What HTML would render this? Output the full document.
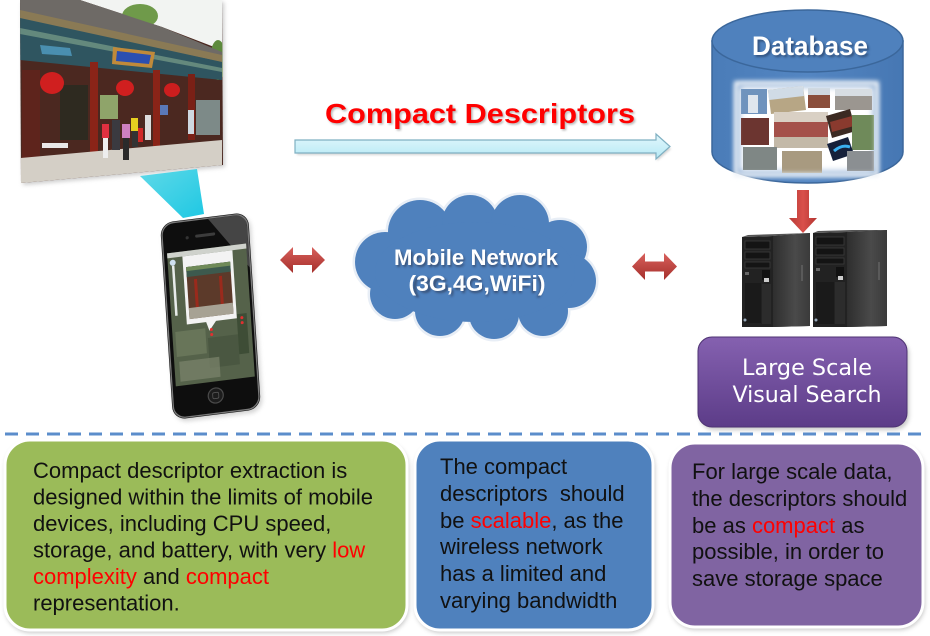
<!DOCTYPE html>
<html><head><meta charset="utf-8"><style>
html,body{margin:0;padding:0;background:#fff;}
svg{display:block;}
text{font-family:"Liberation Sans",Arial,sans-serif;}
</style></head><body>
<svg width="930" height="636" viewBox="0 0 930 636" xmlns="http://www.w3.org/2000/svg">
<defs>
 <linearGradient id="beam" x1="0" y1="0" x2="1" y2="1"><stop offset="0" stop-color="#5fd9e8"/><stop offset="1" stop-color="#1fc8e3"/></linearGradient>
 <linearGradient id="redarr" x1="0" y1="0" x2="0" y2="1"><stop offset="0" stop-color="#d8605c"/><stop offset="1" stop-color="#a52f2b"/></linearGradient>
 <linearGradient id="redarrv" x1="0" y1="0" x2="1" y2="0"><stop offset="0" stop-color="#b83a36"/><stop offset=".5" stop-color="#d9504b"/><stop offset="1" stop-color="#b33430"/></linearGradient>
 <linearGradient id="purp" x1="0" y1="0" x2="0" y2="1"><stop offset="0" stop-color="#8561b0"/><stop offset="1" stop-color="#5c3c88"/></linearGradient>
 <linearGradient id="cyl" x1="0" y1="0" x2="1" y2="0"><stop offset="0" stop-color="#4a7cb8"/><stop offset=".5" stop-color="#5486c2"/><stop offset="1" stop-color="#4677b3"/></linearGradient>
 <linearGradient id="side" x1="0" y1="0" x2="1" y2="0"><stop offset="0" stop-color="#2e2e2e"/><stop offset=".6" stop-color="#4a4a4a"/><stop offset="1" stop-color="#3a3a3a"/></linearGradient>
 <linearGradient id="cyanarr" x1="0" y1="0" x2="0" y2="1"><stop offset="0" stop-color="#e2f7fc"/><stop offset="1" stop-color="#b6e9f5"/></linearGradient>
 <clipPath id="photoclip"><polygon points="20,0 222,0 223,165 21,183"/></clipPath>
 <filter id="blur2" x="-20%" y="-20%" width="140%" height="140%"><feGaussianBlur stdDeviation="2"/></filter>
 <filter id="blur1" x="-20%" y="-20%" width="140%" height="140%"><feGaussianBlur stdDeviation="1"/></filter>
 <filter id="blur4" x="-20%" y="-20%" width="140%" height="140%"><feGaussianBlur stdDeviation="4"/></filter>
</defs>

<!-- ===== Photo ===== -->
<polygon points="22,2 224,2 225,167 23,185" fill="#999" filter="url(#blur2)" opacity=".5"/>
<g clip-path="url(#photoclip)">
 <rect x="15" y="0" width="215" height="190" fill="#4b2820"/>
 <!-- sky & trees -->
 <polygon points="80,0 222,0 222,50 162,27" fill="#f2f4f2"/>
 <ellipse cx="140" cy="16" rx="18" ry="12" fill="#6f9a4a"/>
 <ellipse cx="218" cy="60" rx="8" ry="20" fill="#5d8a3c"/>
 <!-- roof -->
 <polygon points="20,0 80,0 162,27 222,52 222,62 20,18" fill="#6e6a66"/>
 <polygon points="20,10 222,55 222,62 20,20" fill="#8a7a55"/>
 <!-- decorated beams -->
 <polygon points="20,18 222,62 222,80 20,60" fill="#2f5560"/>
 <polygon points="20,28 222,68 222,72 20,34" fill="#7aa08a" opacity=".7"/>
 <polygon points="40,45 70,48 72,56 42,54" fill="#4a8fb0"/>
 <polygon points="113,47 155,52 152,68 112,64" fill="#c08a3a"/>
 <polygon points="117,51 151,55 149,64 116,61" fill="#2b4fb0"/>
 <!-- columns -->
 <rect x="90" y="62" width="8" height="100" fill="#8a2418"/>
 <rect x="153" y="70" width="7" height="78" fill="#8a2418"/>
 <rect x="188" y="74" width="7" height="66" fill="#7a2016"/>
 <rect x="22" y="70" width="18" height="90" fill="#5e241c"/>
 <!-- interior -->
 <rect x="60" y="85" width="28" height="55" fill="#2e2a20"/>
 <rect x="100" y="95" width="18" height="24" fill="#8fa46a"/>
 <rect x="196" y="100" width="24" height="35" fill="#7d8a88"/>
 <rect x="160" y="105" width="8" height="10" fill="#5a78b8"/>
 <!-- lanterns -->
 <ellipse cx="52" cy="83" rx="12" ry="11" fill="#d01f1f"/>
 <ellipse cx="125" cy="88" rx="9" ry="8" fill="#d01f1f"/>
 <ellipse cx="172" cy="90" rx="8" ry="7" fill="#cc1e1e"/>
 <!-- ground -->
 <polygon points="20,158 222,140 222,170 20,190" fill="#d4cfc6"/>
 <!-- table -->
 <rect x="42" y="143" width="26" height="5" fill="#e8e8e8"/>
 <!-- people -->
 <rect x="102" y="124" width="7" height="14" fill="#e03040"/>
 <rect x="103" y="138" width="5" height="20" fill="#eee"/>
 <rect x="112" y="120" width="8" height="30" fill="#3a3a40"/>
 <rect x="122" y="124" width="8" height="14" fill="#d080c0"/>
 <rect x="123" y="138" width="6" height="22" fill="#2a2a2a"/>
 <rect x="131" y="118" width="7" height="13" fill="#e6d020"/>
 <rect x="132" y="131" width="6" height="16" fill="#333"/>
 <rect x="138" y="128" width="5" height="14" fill="#d02828"/>
 <rect x="145" y="115" width="6" height="25" fill="#ddd"/>
 <rect x="188" y="110" width="6" height="24" fill="#cfd8e0"/>
</g>

<!-- ===== Beam ===== -->
<polygon points="140,176 197,169 204,214 183,218" fill="url(#beam)"/>

<!-- ===== Phone ===== -->
<g transform="matrix(1,-0.125,0.066,1,160,223)">
 <rect x="2" y="3" width="88" height="197" rx="13" fill="#888" opacity=".35" filter="url(#blur2)"/>
 <rect x="0" y="0" width="88" height="197" rx="13" fill="#0e0e0e"/>
 <rect x="1.2" y="1.2" width="85.6" height="194.6" rx="12" fill="none" stroke="#7a7a7a" stroke-width="1.3"/>
 <path d="M48,2 L75,2 Q86,2 86,14 L86,55 Z" fill="#8a8a8a" opacity=".45"/>
 <rect x="34" y="16" width="20" height="3" rx="1.5" fill="#3c3c3c"/>
 <circle cx="26" cy="18" r="1.6" fill="#333"/>
 <!-- screen -->
 <rect x="5" y="31" width="79" height="133" fill="#55624a"/>
 <rect x="5" y="31" width="79" height="5" fill="#cfd2cc"/>
 <rect x="8" y="110" width="30" height="25" fill="#6d7a5c" opacity=".8"/>
 <rect x="40" y="120" width="30" height="30" fill="#47553f" opacity=".8"/>
 <rect x="10" y="140" width="40" height="20" fill="#7c846c" opacity=".7"/>
 <rect x="70" y="100" width="10" height="40" fill="#3e4d36"/>
 <rect x="9" y="44" width="2.5" height="50" fill="#e8ecea"/>
 <circle cx="10" cy="41" r="3" fill="#cfe0ef"/>
 <!-- popup -->
 <rect x="20" y="36" width="50" height="68" fill="#f3f3f3"/>
 <polygon points="39,103 50,103 42,113" fill="#f3f3f3"/>
 <rect x="23" y="47" width="44" height="52" fill="#5c3a2a"/>
 <rect x="23" y="47" width="44" height="10" fill="#3d5a4e"/>
 <rect x="23" y="47" width="44" height="4" fill="#6f8a58"/>
 <rect x="30" y="60" width="3" height="30" fill="#9a2a1c"/>
 <rect x="55" y="60" width="3" height="30" fill="#9a2a1c"/>
 <rect x="23" y="88" width="44" height="11" fill="#a7a294"/>
 <circle cx="44" cy="112" r="1.5" fill="#e03030"/>
 <circle cx="44" cy="117" r="1.5" fill="#e03030"/>
 <circle cx="75" cy="104" r="1.5" fill="#e03030"/>
 <circle cx="75" cy="109" r="1.5" fill="#e03030"/>
 <!-- home button -->
 <circle cx="44" cy="178" r="7.5" fill="#1c1c1c" stroke="#4a4a4a" stroke-width="1.2"/>
 <rect x="41" y="175" width="6" height="6" rx="1.5" fill="none" stroke="#555" stroke-width="0.8"/>
</g>

<!-- ===== Compact Descriptors ===== -->
<text x="326.5" y="124.5" font-size="28" font-weight="bold" fill="#888" opacity=".6" textLength="310" lengthAdjust="spacingAndGlyphs" filter="url(#blur1)">Compact Descriptors</text>
<text x="325" y="123" font-size="28" font-weight="bold" fill="#ff0000" textLength="310" lengthAdjust="spacingAndGlyphs">Compact Descriptors</text>

<!-- cyan arrow -->
<path d="M297,143 L657,143 L657,137 L671,149 L657,161 L657,155 L297,155 Z" fill="#aaa" opacity=".5" filter="url(#blur1)"/>
<path d="M295,140 L656,140 L656,134 L670,146.5 L656,159 L656,153 L295,153 Z" fill="url(#cyanarr)" stroke="#7fb0c2" stroke-width="1.2"/>

<!-- ===== red double arrows ===== -->
<path d="M280,260 L293,247 L293,255 L312,255 L312,247 L325,260 L312,273 L312,265 L293,265 L293,273 Z" fill="url(#redarr)"/>
<path d="M632,266.5 L645,253 L645,261.5 L664,261.5 L664,253 L677,266.5 L664,280 L664,271.5 L645,271.5 L645,280 Z" fill="url(#redarr)"/>

<!-- ===== Cloud ===== -->
<g fill="#4f81bd" stroke="#e8eef6" stroke-width="5">
 <circle cx="385" cy="262" r="30"/>
 <circle cx="420" cy="232" r="32"/>
 <circle cx="470" cy="223" r="28"/>
 <circle cx="520" cy="224" r="29"/>
 <circle cx="560" cy="247" r="27"/>
 <circle cx="569" cy="281" r="27"/>
 <circle cx="543" cy="311" r="25"/>
 <circle cx="494" cy="314" r="25"/>
 <circle cx="440" cy="311" r="25"/>
 <circle cx="395" cy="294" r="25"/>
</g>
<g fill="#4f81bd">
 <circle cx="385" cy="262" r="30"/>
 <circle cx="420" cy="232" r="32"/>
 <circle cx="470" cy="223" r="28"/>
 <circle cx="520" cy="224" r="29"/>
 <circle cx="560" cy="247" r="27"/>
 <circle cx="569" cy="281" r="27"/>
 <circle cx="543" cy="311" r="25"/>
 <circle cx="494" cy="314" r="25"/>
 <circle cx="440" cy="311" r="25"/>
 <circle cx="395" cy="294" r="25"/>
 <ellipse cx="475" cy="272" rx="100" ry="50"/>
</g>
<text x="477" y="267" font-size="22" font-weight="bold" fill="#223" opacity=".5" text-anchor="middle" filter="url(#blur1)">Mobile Network</text>
<text x="476" y="265" font-size="22" font-weight="bold" fill="#fff" text-anchor="middle" textLength="164" lengthAdjust="spacingAndGlyphs">Mobile Network</text>
<text x="478" y="293" font-size="22" font-weight="bold" fill="#223" opacity=".5" text-anchor="middle" filter="url(#blur1)">(3G,4G,WiFi)</text>
<text x="477" y="291" font-size="22" font-weight="bold" fill="#fff" text-anchor="middle" textLength="137" lengthAdjust="spacingAndGlyphs">(3G,4G,WiFi)</text>

<!-- ===== Database ===== -->
<path d="M712,41 L712,152 A95.5,31 0 0 0 903,152 L903,41 Z" fill="url(#cyl)" stroke="#3b679b" stroke-width="1.5"/>
<ellipse cx="807.5" cy="41" rx="95.5" ry="31" fill="#4f81bd" stroke="#3b679b" stroke-width="1.5"/>
<text x="812" y="57" font-size="27" font-weight="bold" fill="#1a2f4f" opacity=".55" text-anchor="middle" textLength="116" lengthAdjust="spacingAndGlyphs" filter="url(#blur1)">Database</text>
<text x="810" y="55" font-size="27" font-weight="bold" fill="#fff" text-anchor="middle" textLength="116" lengthAdjust="spacingAndGlyphs">Database</text>
<!-- collage -->
<rect x="738" y="85" width="137" height="88" fill="#ffffff" filter="url(#blur4)"/>
<g>
 <rect x="741" y="89" width="26" height="25" fill="#6f93bd"/>
 <rect x="748" y="95" width="10" height="18" fill="#dfe6ee"/>
 <polygon points="768,90 803,86 806,110 771,114" fill="#b7a685"/>
 <polygon points="768,90 803,86 804,96 769,100" fill="#d0dbe6"/>
 <rect x="808" y="88" width="22" height="20" fill="#8a4e3c"/>
 <rect x="808" y="88" width="22" height="7" fill="#cfd8e0"/>
 <rect x="835" y="89" width="37" height="21" fill="#9b9690"/>
 <rect x="835" y="89" width="37" height="7" fill="#d7dde2"/>
 <rect x="741" y="118" width="28" height="27" fill="#6c3530"/>
 <rect x="774" y="112" width="54" height="36" fill="#a4514a"/>
 <rect x="774" y="112" width="54" height="10" fill="#d9d0c4"/>
 <rect x="774" y="137" width="54" height="11" fill="#c3b9a8"/>
 <polygon points="826,116 850,109 856,131 832,138" fill="#3c2a22"/>
 <polygon points="830,122 852,116 854,126 832,132" fill="#8a3a2e"/>
 <rect x="852" y="115" width="22" height="35" fill="#6f8a5a"/>
 <polygon points="827,144 848,137 854,154 833,161" fill="#15203a"/>
 <path d="M834,151 Q842,144 850,147" stroke="#3ab0f0" stroke-width="3" fill="none"/>
 <rect x="743" y="147" width="34" height="23" fill="#7f8785"/>
 <rect x="782" y="151" width="40" height="22" fill="#a89a80"/>
 <rect x="847" y="151" width="27" height="20" fill="#8b8f92"/>
</g>
<rect x="736" y="83" width="141" height="92" fill="none" stroke="#eef3f8" stroke-width="4" filter="url(#blur2)"/>

<!-- red down arrow -->
<path d="M797,190 L809,190 L809,218 L817,218 L803,233 L789,218 L797,218 Z" fill="url(#redarrv)"/>

<!-- ===== Servers ===== -->
<!-- left -->
<polygon points="742,237 773,236 810,233 810,326 773,327 742,327" fill="#222"/>
<polygon points="773,236 810,233 810,326 773,327" fill="url(#side)"/>
<polygon points="742,237 773,236 810,233 779,234 748,235" fill="#555"/>
<rect x="745" y="241" width="25" height="8" fill="#141414" stroke="#3c3c3c" stroke-width=".8"/>
<rect x="745" y="252" width="25" height="7" fill="#141414" stroke="#3c3c3c" stroke-width=".8"/>
<rect x="745" y="262" width="25" height="6" fill="#141414" stroke="#3c3c3c" stroke-width=".8"/>
<rect x="745" y="272" width="4" height="3" fill="#666"/>
<rect x="762" y="270" width="8" height="10" fill="#111"/>
<rect x="764" y="278" width="5" height="4" fill="#ccc"/>
<rect x="745" y="283" width="16" height="40" fill="#1a1a1a"/>
<rect x="762" y="284" width="9" height="40" fill="#2c2c2c"/>
<circle cx="745" cy="320" r="1.5" fill="#9ab"/>
<rect x="801" y="265" width="2" height="16" fill="#5a5a5a"/>
<!-- right -->
<polygon points="813,233 847,232 887,230 887,326 847,327 813,327" fill="#222"/>
<polygon points="847,232 887,230 887,326 847,327" fill="url(#side)"/>
<polygon points="813,233 847,232 887,230 852,230 818,231" fill="#555"/>
<rect x="816" y="237" width="28" height="8" fill="#141414" stroke="#3c3c3c" stroke-width=".8"/>
<rect x="816" y="248" width="28" height="7" fill="#141414" stroke="#3c3c3c" stroke-width=".8"/>
<rect x="816" y="258" width="28" height="6" fill="#141414" stroke="#3c3c3c" stroke-width=".8"/>
<rect x="816" y="268" width="4" height="3" fill="#666"/>
<rect x="836" y="267" width="8" height="10" fill="#111"/>
<rect x="838" y="276" width="5" height="4" fill="#ccc"/>
<rect x="816" y="282" width="18" height="42" fill="#1a1a1a"/>
<rect x="835" y="282" width="10" height="42" fill="#2c2c2c"/>
<circle cx="816" cy="320" r="1.5" fill="#9ab"/>
<rect x="878" y="262" width="2" height="18" fill="#5a5a5a"/>

<!-- ===== Large Scale Visual Search ===== -->
<rect x="700" y="340" width="209" height="90" rx="14" fill="#777" opacity=".4" filter="url(#blur2)"/>
<rect x="698" y="337" width="209" height="90" rx="14" fill="url(#purp)" stroke="#4e3373" stroke-width="1"/>
<text x="807" y="375" font-size="22" fill="#fff" text-anchor="middle" textLength="130" lengthAdjust="spacingAndGlyphs" style="font-family:'DejaVu Sans',Verdana,sans-serif">Large Scale</text>
<text x="807" y="402" font-size="22" fill="#fff" text-anchor="middle" textLength="149" lengthAdjust="spacingAndGlyphs" style="font-family:'DejaVu Sans',Verdana,sans-serif">Visual Search</text>

<!-- ===== dashed line ===== -->
<line x1="5" y1="434" x2="926" y2="434" stroke="#5b8dcb" stroke-width="3" stroke-dasharray="13,8"/>

<!-- ===== bottom boxes ===== -->
<rect x="5" y="442" width="404" height="191" rx="26" fill="#888" opacity=".45" filter="url(#blur2)"/>
<rect x="5" y="440" width="402" height="190" rx="25" fill="#9bbb59" stroke="#fff" stroke-width="3"/>
<rect x="415" y="442" width="240" height="191" rx="26" fill="#888" opacity=".45" filter="url(#blur2)"/>
<rect x="415" y="440" width="238" height="190" rx="25" fill="#4f81bd" stroke="#fff" stroke-width="3"/>
<rect x="670" y="445" width="255" height="185" rx="26" fill="#888" opacity=".45" filter="url(#blur2)"/>
<rect x="670" y="443" width="253" height="184" rx="25" fill="#8064a2" stroke="#fff" stroke-width="3"/>

<g font-size="22" fill="#111">
 <text x="33" y="478">Compact descriptor extraction is</text>
 <text x="33" y="504.5">designed within the limits of mobile</text>
 <text x="33" y="531">devices, including CPU speed,</text>
 <text x="33" y="557.5">storage, and battery, with very <tspan fill="#ff0000">low</tspan></text>
 <text x="33" y="584"><tspan fill="#ff0000">complexity</tspan> and <tspan fill="#ff0000">compact</tspan></text>
 <text x="33" y="610.5">representation.</text>

 <text x="440" y="474">The compact</text>
 <text x="440" y="501" xml:space="preserve">descriptors  should</text>
 <text x="440" y="528">be <tspan fill="#ff0000">scalable</tspan>, as the</text>
 <text x="440" y="554">wireless network</text>
 <text x="440" y="581">has a limited and</text>
 <text x="440" y="608">varying bandwidth</text>

 <text x="692" y="479">For large scale data,</text>
 <text x="692" y="506">the descriptors should</text>
 <text x="692" y="533">be as <tspan fill="#ff0000">compact</tspan> as</text>
 <text x="692" y="559">possible, in order to</text>
 <text x="692" y="586">save storage space</text>
</g>
</svg>
</body></html>
